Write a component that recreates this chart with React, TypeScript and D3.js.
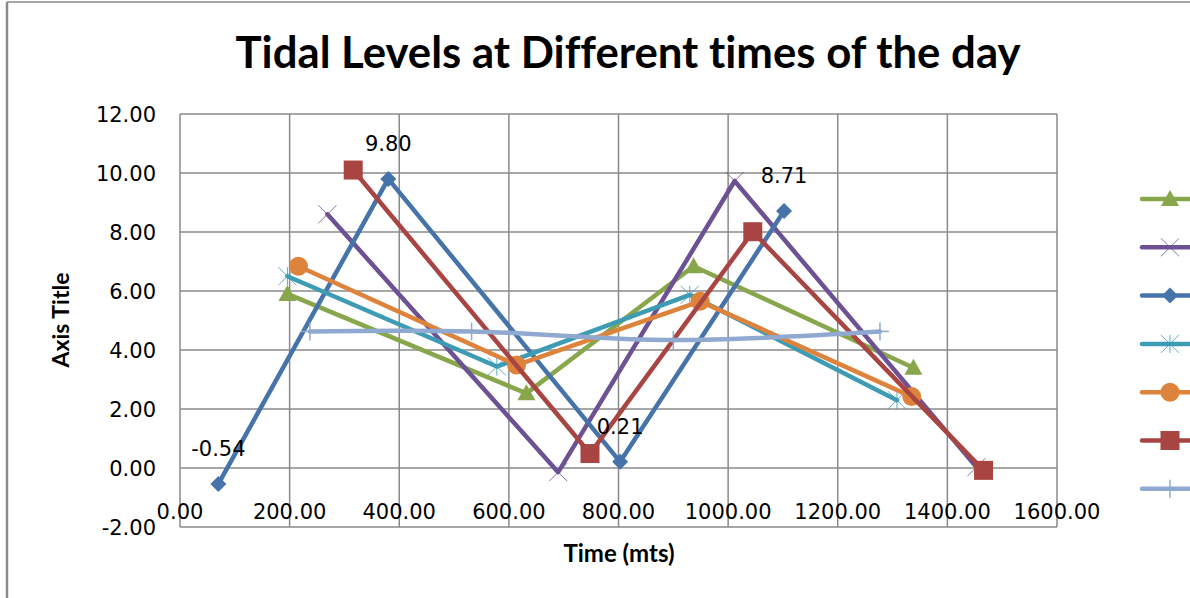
import React, { useRef, useEffect } from 'react';
import * as d3 from 'd3';

const W = 1190;
const H = 598;

// series values (x = time in mts, y = level)
const greenX = [196, 632, 937, 1338];
const greenY = [5.9, 2.53, 6.84, 3.4];
const purpleX = [269, 690, 1012, 1453];
const purpleY = [8.6, -0.14, 9.73, 0.03];
const blueX = [70, 380, 803, 1102];
const blueY = [-0.54, 9.8, 0.21, 8.71];
const tealX = [196, 578, 930, 1308];
const tealY = [6.5, 3.44, 5.87, 2.3];
const orangeX = [216, 614, 949, 1335];
const orangeY = [6.84, 3.49, 5.65, 2.42];
const redX = [316, 748, 1045, 1466];
const redY = [10.1, 0.49, 8.01, -0.08];
const lightX = [237, 532, 900, 1277];
const lightY = [4.63, 4.63, 4.34, 4.63];

const xTicks = [0, 200, 400, 600, 800, 1000, 1200, 1400, 1600];
const yTicks = [-2, 0, 2, 4, 6, 8, 10, 12];

const SERIES = [
  { xs: greenX, ys: greenY, color: '#88A64B', marker: 'triangle', smooth: false },
  { xs: purpleX, ys: purpleY, color: '#6C5294', marker: 'x', smooth: false },
  { xs: blueX, ys: blueY, color: '#4573AA', marker: 'diamond', smooth: false },
  { xs: tealX, ys: tealY, color: '#3D9BB3', marker: 'star', smooth: false },
  { xs: orangeX, ys: orangeY, color: '#DE833C', marker: 'circle', smooth: false },
  { xs: redX, ys: redY, color: '#A84543', marker: 'square', smooth: false },
  { xs: lightX, ys: lightY, color: '#8FA9D0', marker: 'plus', smooth: true },
];

const TICK_FONT = 'DejaVu Sans, sans-serif';
const TITLE_FONT = 'Lato, "Open Sans", sans-serif';

// Excel shows a plain hyphen for negatives
const fmt = (v: number) => d3.format('.2f')(v).replace('\u2212', '-');

function drawMarker(g: any, kind: string, x: number, y: number, color: string) {
  if (kind === 'triangle') {
    g.append('path')
      .attr('d', `M${x},${y - 9} L${x + 9},${y + 7} L${x - 9},${y + 7} Z`)
      .attr('fill', color);
  } else if (kind === 'square') {
    g.append('rect')
      .attr('x', x - 9.5)
      .attr('y', y - 9.5)
      .attr('width', 19)
      .attr('height', 19)
      .attr('fill', color);
  } else if (kind === 'circle') {
    g.append('circle').attr('cx', x).attr('cy', y).attr('r', 9.5).attr('fill', color);
  } else if (kind === 'diamond') {
    g.append('path')
      .attr('d', `M${x},${y - 8} L${x + 8},${y} L${x},${y + 8} L${x - 8},${y} Z`)
      .attr('fill', color);
  } else if (kind === 'x' || kind === 'star') {
    const s = 9;
    const m = g.append('g').attr('stroke', color).attr('stroke-width', 1).attr('opacity', 0.8);
    m.append('line').attr('x1', x - s).attr('y1', y - s).attr('x2', x + s).attr('y2', y + s);
    m.append('line').attr('x1', x - s).attr('y1', y + s).attr('x2', x + s).attr('y2', y - s);
    if (kind === 'star') {
      m.append('line').attr('x1', x).attr('y1', y - s).attr('x2', x).attr('y2', y + s);
    }
  } else if (kind === 'plus') {
    const s = 9;
    const m = g.append('g').attr('stroke', color).attr('stroke-width', 1.5);
    m.append('line').attr('x1', x).attr('y1', y - s).attr('x2', x).attr('y2', y + s);
    m.append('line').attr('x1', x - s).attr('y1', y).attr('x2', x + s).attr('y2', y);
  }
}

export default function App() {
  const svgRef = useRef<SVGSVGElement>(null);

  useEffect(() => {
    if (!svgRef.current) return;
    const svg = d3.select(svgRef.current);
    svg.selectAll('*').remove();

    const x = d3.scaleLinear().domain([0, 1600]).range([180, 1057]);
    const y = d3.scaleLinear().domain([-2, 12]).range([527, 114]);

    svg.append('rect').attr('width', W).attr('height', H).attr('fill', '#fff');

    // chart area border (only top and left show in the frame)
    svg.append('line').attr('x1', 7).attr('y1', 2).attr('x2', W).attr('y2', 2)
      .attr('stroke', '#8a8a8a').attr('stroke-width', 1.5);
    svg.append('line').attr('x1', 7).attr('y1', 2).attr('x2', 7).attr('y2', H)
      .attr('stroke', '#8a8a8a').attr('stroke-width', 2.5);

    // grid
    const grid = svg.append('g').attr('stroke', '#8a8a8a').attr('stroke-width', 1.5);
    yTicks.forEach((v) => {
      grid.append('line').attr('x1', x(0)).attr('x2', x(1600)).attr('y1', y(v)).attr('y2', y(v));
    });
    xTicks.forEach((v) => {
      grid.append('line').attr('x1', x(v)).attr('x2', x(v)).attr('y1', y(12)).attr('y2', y(-2));
    });

    // tick labels
    yTicks.forEach((v) => {
      svg.append('text')
        .attr('x', 156)
        .attr('y', y(v) + 8)
        .attr('text-anchor', 'end')
        .attr('font-family', TICK_FONT)
        .attr('font-size', 21)
        .attr('fill', '#000')
        .text(fmt(v));
    });
    xTicks.forEach((v) => {
      svg.append('text')
        .attr('x', x(v))
        .attr('y', 519)
        .attr('text-anchor', 'middle')
        .attr('font-family', TICK_FONT)
        .attr('font-size', 21)
        .attr('fill', '#000')
        .text(fmt(v));
    });

    // series
    SERIES.forEach((s) => {
      const pts: [number, number][] = s.xs.map((v, i) => [x(v), y(s.ys[i])]);
      const line = d3.line().curve(s.smooth ? d3.curveCatmullRom.alpha(0.5) : d3.curveLinear);
      svg.append('path')
        .attr('d', line(pts) ?? '')
        .attr('fill', 'none')
        .attr('stroke', s.color)
        .attr('stroke-width', 4.5)
        .attr('stroke-linejoin', 'round')
        .attr('stroke-linecap', 'round');
      const mg = svg.append('g');
      pts.forEach(([px, py]) => drawMarker(mg, s.marker, px, py, s.color));
    });

    // data labels on the blue series
    blueX.forEach((v, i) => {
      svg.append('text')
        .attr('x', x(v))
        .attr('y', y(blueY[i]) - 28)
        .attr('text-anchor', 'middle')
        .attr('font-family', TICK_FONT)
        .attr('font-size', 21)
        .attr('fill', '#000')
        .text(fmt(blueY[i]));
    });

    // legend (labels fall outside the frame)
    SERIES.forEach((s, i) => {
      const ly = 199 + i * 48.3;
      svg.append('line')
        .attr('x1', 1142).attr('x2', 1200).attr('y1', ly).attr('y2', ly)
        .attr('stroke', s.color).attr('stroke-width', 4.5).attr('stroke-linecap', 'round');
      drawMarker(svg, s.marker, 1170, ly, s.color);
    });

    // titles
    svg.append('text')
      .attr('x', 628)
      .attr('y', 68)
      .attr('text-anchor', 'middle')
      .attr('font-family', TITLE_FONT)
      .attr('font-weight', 'bold')
      .attr('font-size', 43)
      .style('font-variant-ligatures', 'none')
      .style('font-feature-settings', '"liga" 0, "clig" 0, "dlig" 0')
      .attr('textLength', 785)
      .attr('lengthAdjust', 'spacingAndGlyphs')
      .text('Tidal Levels at Different times of the day');

    svg.append('text')
      .attr('x', 619)
      .attr('y', 562)
      .attr('text-anchor', 'middle')
      .attr('font-family', TITLE_FONT)
      .attr('font-weight', 'bold')
      .attr('font-size', 24)
      .text('Time (mts)');

    svg.append('text')
      .attr('transform', `translate(69, 320) rotate(-90)`)
      .attr('text-anchor', 'middle')
      .attr('font-family', TITLE_FONT)
      .attr('font-weight', 'bold')
      .attr('font-size', 23)
      .text('Axis Title');
  }, []);

  return (
    <svg
      ref={svgRef}
      width={W}
      height={H}
      style={{ position: 'absolute', left: 0, top: 0, display: 'block' }}
    />
  );
}
